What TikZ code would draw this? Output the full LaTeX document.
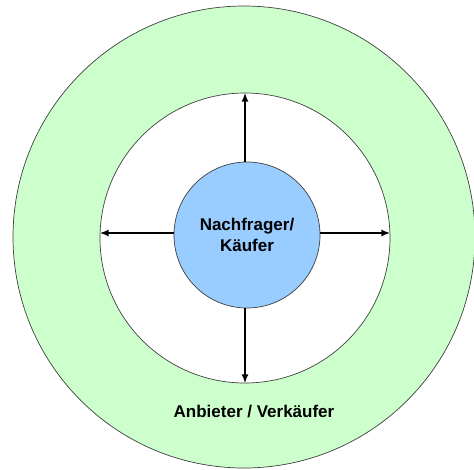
\documentclass[tikz,border=0pt]{standalone}
\usepackage{fontspec}
\setmainfont{Liberation Sans}
\usepackage{tikz}
\usetikzlibrary{arrows.meta, positioning}
\usepackage{xcolor}
\definecolor{ringgreen}{RGB}{204,255,204}
\definecolor{kernblue}{RGB}{153,204,255}

\begin{document}
\begin{tikzpicture}[x=1pt, y=-1pt,
    ring/.style={circle, draw=black!75, line width=0.7pt, inner sep=0pt},
    pfeil/.style={line width=1.9pt, -{Latex[length=9pt, width=7pt]}},
    beschriftung/.style={font=\fontsize{17}{21}\selectfont\bfseries, align=center}]
    \useasboundingbox (0,0) rectangle (474,469);
    \clip (0,0) rectangle (474,469);

    % Outer ring: Anbieter
    \node[ring, fill=ringgreen, minimum size=462pt] (anbieter) at (244,237) {};

    % Inner ring: Markt
    \node[ring, fill=white, minimum size=290pt] (markt) at (245,238) {};

    % Core: Nachfrager
    \node[ring, fill=kernblue, minimum size=146pt, beschriftung] (kaeufer) at (247,235)
        {Nachfrager/\\Käufer};

    % Arrows from the core to the inner ring
    \draw[pfeil] (kaeufer.north -| markt.north) -- (markt.north);
    \draw[pfeil] (kaeufer.south -| markt.south) -- (markt.south);
    \draw[pfeil] (kaeufer.west |- 0,233) -- (markt.west |- 0,233);
    \draw[pfeil] (kaeufer.east |- 0,233) -- (markt.east |- 0,233);

    % Label in the outer ring
    \node[beschriftung] (anbieterlabel) at (254,412) {Anbieter / Verkäufer};
\end{tikzpicture}
\end{document}
